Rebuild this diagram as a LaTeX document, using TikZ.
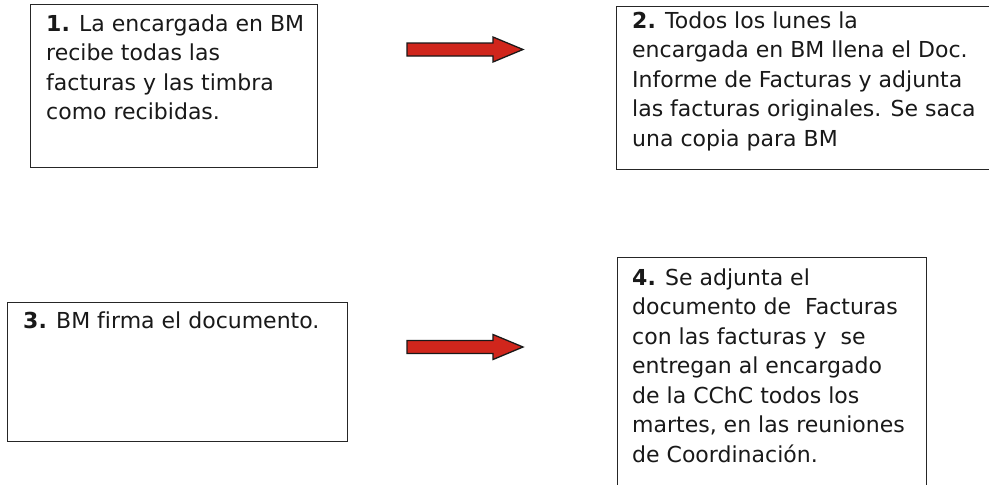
\documentclass[tikz,border=0pt]{standalone}
\usepackage{fontspec}
\setmainfont{DejaVu Sans}[Ligatures=NoCommon]
\usetikzlibrary{calc}
\definecolor{arrowred}{HTML}{D0261C}
\begin{document}
\begin{tikzpicture}[x=1pt,y=-1pt,
  box/.style={draw=black!85, line width=1.3pt, anchor=north west, inner sep=0pt},
  txt/.style={anchor=north west, inner sep=0pt, align=left, text=black!90,
    font=\fontsize{22}{29.5}\selectfont},
  blockarrow/.style={fill=arrowred, draw=black!90, line width=1.3pt, line join=miter}]
\useasboundingbox (0,0) rectangle (989,485);
\clip (0,0) rectangle (989,485);
\fill[white] (0,0) rectangle (989,485);
\newcommand\firstline{\rule{0pt}{18pt}}
% boxes
\node[box, minimum width=287pt, minimum height=163pt] (b1) at (30,4) {};
\node[box, minimum width=400pt, minimum height=163pt] (b2) at (616,6) {};
\node[box, minimum width=340pt, minimum height=139pt] (b3) at (7,302) {};
\node[box, minimum width=309pt, minimum height=260pt] (b4) at (617,257) {};
% texts (top = first baseline - 18)
\node[txt] (t1) at (46,13) {\firstline\textbf{1.} La encargada en BM\\recibe todas las\\facturas y las timbra\\como recibidas.};
\node[txt] (t2) at (632,10) {\firstline\textbf{2.} Todos los lunes la\\encargada en BM llena el Doc.\\Informe de Facturas y adjunta\\las facturas originales. Se saca\\una copia para BM};
\node[txt] (t3) at (23,310) {\firstline\textbf{3.} BM firma el documento.};
\node[txt] (t4) at (632,267) {\firstline\textbf{4.} Se adjunta el\\documento de\ \ Facturas\\con las facturas y\ \ se\\entregan al encargado\\de la CChC todos los\\martes, en las reuniones\\de Coordinación.};
% arrows
\coordinate (a1) at (407,49.5);
\coordinate (a2) at (407,347);
\foreach \c in {a1, a2}{
  \draw[blockarrow] ($(\c)+(0,-6.5)$) -- ++(86,0) -- ++(0,-6) -- ++(30,12.5) -- ++(-30,12.5) -- ++(0,-6) -- ++(-86,0) -- cycle;
}
\end{tikzpicture}
\end{document}
